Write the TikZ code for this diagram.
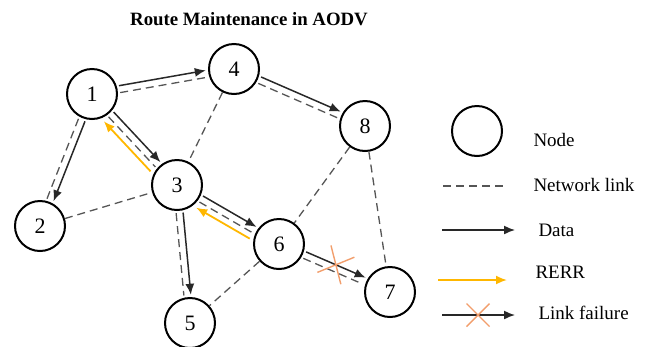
\documentclass[tikz,border=0pt]{standalone}
\usepackage{fontspec}
\setmainfont{Liberation Serif}
\usetikzlibrary{calc,arrows.meta}
\definecolor{rerrorange}{RGB}{255,183,0}
\definecolor{failorange}{RGB}{242,158,108}
\definecolor{linkgray}{RGB}{85,85,85}
\definecolor{datagray}{RGB}{40,40,40}
\tikzset{
  mote/.style={circle,draw,line width=2bp,minimum size=50bp,inner sep=0pt,
    font=\fontsize{22bp}{24bp}\selectfont},
  netlink/.style={linkgray,dash pattern=on 8bp off 5bp,line width=1.3bp},
  dataarrow/.style={datagray,line width=1.5bp,-{Latex[length=11bp,width=9bp]}},
  rerrarrow/.style={rerrorange,line width=1.8bp,-{Latex[length=11bp,width=9bp]}},
  gap/.style={shorten <=28bp,shorten >=28bp},
  failx/.style={failorange,line width=1.4bp},
  legtext/.style={anchor=base west,font=\fontsize{19bp}{22bp}\selectfont}
}
% one of two parallel lines between two motes: style, from, to, offset
\newcommand\sidelink[4]{%
  \draw[#1,gap] ($(#2)!#4!90:(#3)$) -- ($(#3)!#4!-90:(#2)$);}

\begin{document}
\begin{tikzpicture}[x=1bp,y=-1bp]
\useasboundingbox (0,0) rectangle (646,346);

\node[anchor=base,font=\bfseries\fontsize{18.8bp}{22bp}\selectfont] (title) at (249,25) {Route Maintenance in AODV};

% motes
\node[mote] (n1) at (92,94) {1};
\node[mote] (n2) at (40,226) {2};
\node[mote] (n3) at (177,185) {3};
\node[mote] (n4) at (234,69) {4};
\node[mote] (n5) at (190,323) {5};
\node[mote] (n6) at (279,244) {6};
\node[mote] (n7) at (390,292) {7};
\node[mote] (n8) at (365,126) {8};

% plain network links
\draw[netlink] (n4) -- (n3);
\draw[netlink] (n2) -- (n3);
\draw[netlink] (n8) -- (n6);
\draw[netlink] (n8) -- (n7);
\draw[netlink] (n6) -- (n5);

% links carrying data
\sidelink{dataarrow}{n1}{n4}{3.5bp}
\sidelink{netlink}{n1}{n4}{-3.5bp}
\sidelink{dataarrow}{n4}{n8}{3.5bp}
\sidelink{netlink}{n4}{n8}{-3.5bp}
\sidelink{dataarrow}{n1}{n3}{3.5bp}
\sidelink{netlink}{n1}{n3}{-3.5bp}
\sidelink{dataarrow}{n1}{n2}{3.5bp}
\sidelink{netlink}{n1}{n2}{-3.5bp}
\sidelink{dataarrow}{n3}{n6}{3.5bp}
\sidelink{netlink}{n3}{n6}{-3.5bp}
\sidelink{dataarrow}{n3}{n5}{3.5bp}
\sidelink{netlink}{n3}{n5}{-3.5bp}
\draw[dataarrow,gap] ($(n6)!3.5bp!90:(n7)$) -- coordinate[pos=.5] (cut) ($(n7)!3.5bp!-90:(n6)$);
\sidelink{netlink}{n6}{n7}{-3.5bp}

% route errors
\sidelink{rerrarrow}{n3}{n1}{10bp}
\sidelink{rerrarrow}{n6}{n3}{10bp}

% broken link
\draw[failx] ($(cut)!20bp!49:(n7)$) -- ($(cut)!20bp!229:(n7)$);
\draw[failx] ($(cut)!20bp!-49:(n7)$) -- ($(cut)!20bp!131:(n7)$);

% legend
\node[mote] (legnode) at (477,131) {};
\node[legtext] (legnodetxt) at (530,146) {Node};

\coordinate (lka) at (443,186);
\coordinate (lkb) at (508,186);
\draw[netlink] (lka) -- (lkb);
\node[legtext] (legnettxt) at (530,191.5) {Network link};

\coordinate (dta) at (442,230);
\coordinate (dtb) at (515,230);
\draw[dataarrow] (dta) -- (dtb);
\node[legtext] (legdatatxt) at (535,236.5) {Data};

\coordinate (rra) at (438,280);
\coordinate (rrb) at (507,280);
\draw[rerrarrow] (rra) -- (rrb);
\node[legtext] (legrerrtxt) at (532,278) {RERR};

\coordinate (lfa) at (442,315);
\coordinate (lfb) at (515,315);
\draw[dataarrow] (lfa) -- (lfb);
\coordinate (lfx) at (478,315);
\draw[failx] ($(lfx)+(-11.5,-11.5)$) -- ($(lfx)+(11.5,11.5)$);
\draw[failx] ($(lfx)+(-11.5,11.5)$) -- ($(lfx)+(11.5,-11.5)$);
\node[legtext] (legfailtxt) at (535,319) {Link failure};
\end{tikzpicture}
\end{document}
